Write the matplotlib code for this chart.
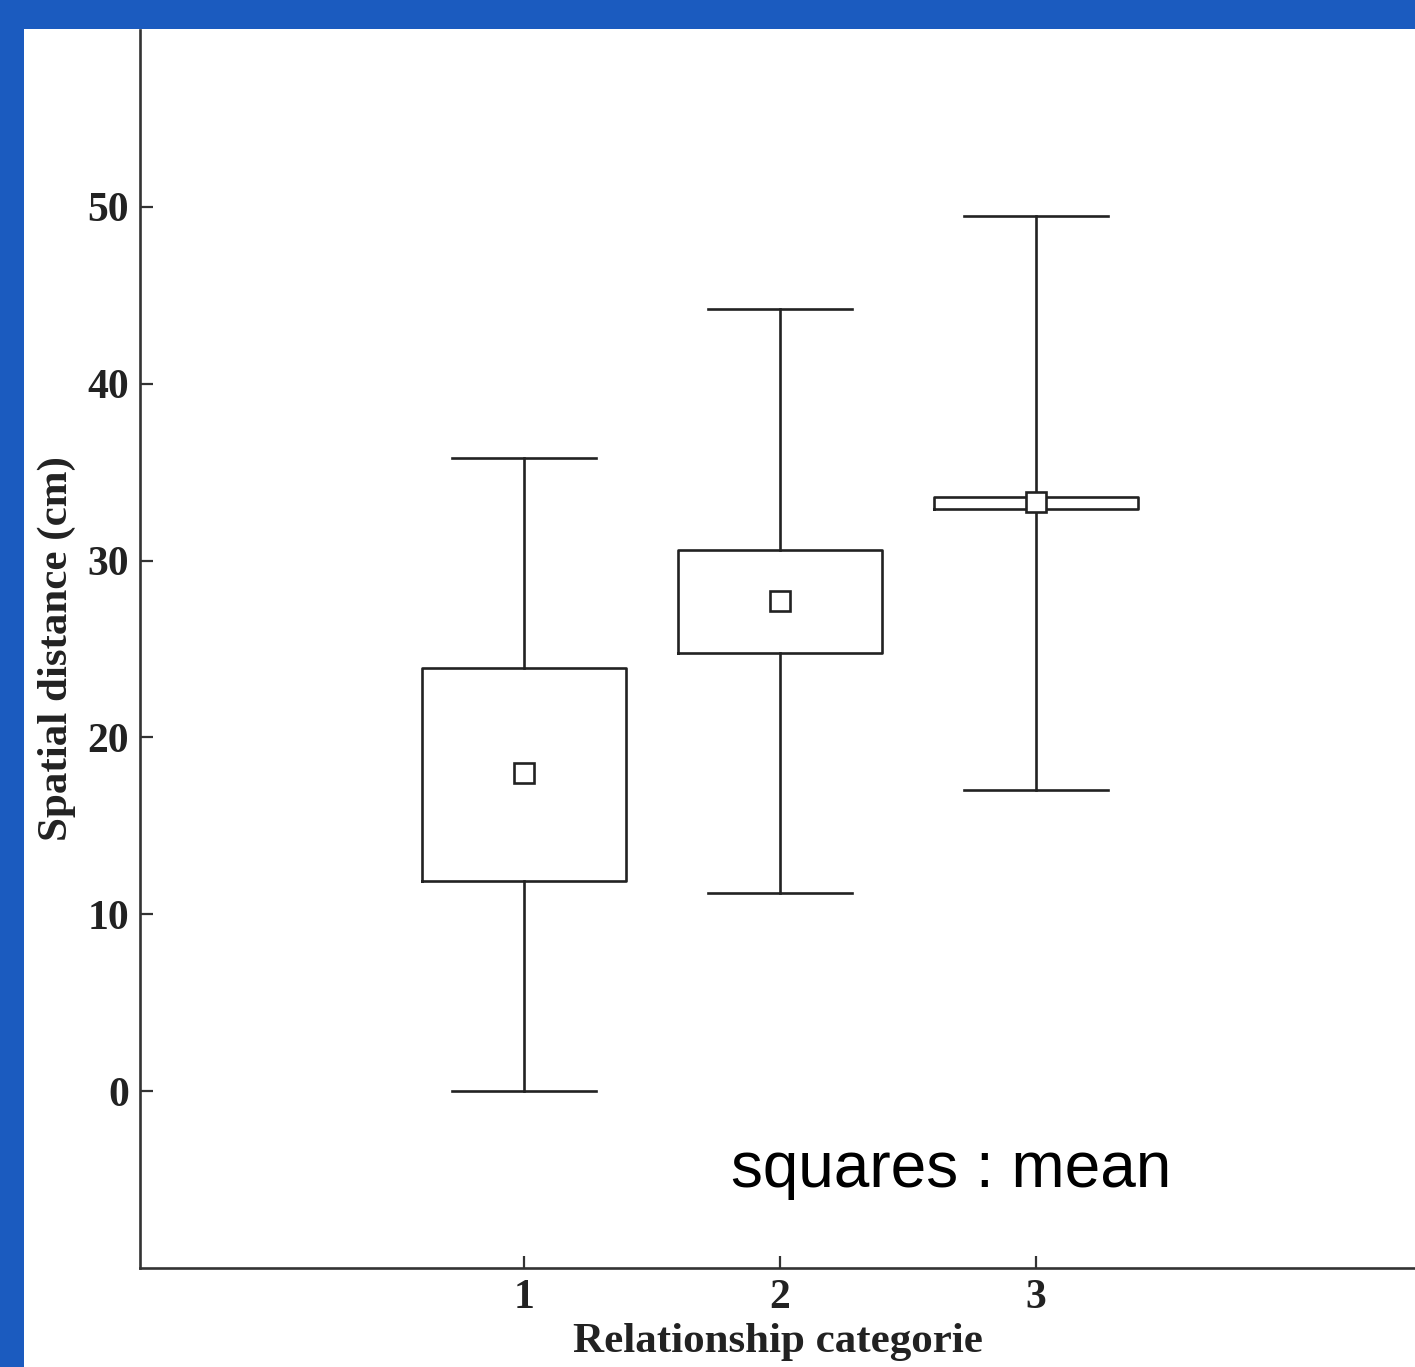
import matplotlib.pyplot as plt
from matplotlib.patches import Rectangle

# relationship categories and their distance summaries (cm)
categories = [1, 2, 3]
whisker_low = [0.0, 11.2, 17.0]
box_low = [11.9, 24.8, 32.9]
box_high = [23.9, 30.6, 33.6]
whisker_high = [35.8, 44.2, 49.5]
means = [18.0, 27.7, 33.3]

serif = ['Liberation Serif', 'DejaVu Serif']

fig = plt.figure(figsize=(14.15, 13.67), dpi=100)
fig.patch.set_facecolor('#1b5bbf')
# white sheet behind the chart
fig.patches.append(Rectangle((24 / 1415, 0), 1 - 24 / 1415, 1 - 29 / 1367,
                             transform=fig.transFigure, facecolor='white',
                             edgecolor='none', zorder=-10))

ax = fig.add_axes([140 / 1415, 99 / 1367, 1275 / 1415, 1238 / 1367])
ax.set_zorder(5)
ax.set_facecolor('none')

stats = []
for c, lo, q1, q3, hi, m in zip(categories, whisker_low, box_low, box_high, whisker_high, means):
    stats.append({'label': str(c), 'whislo': lo, 'q1': q1, 'med': m,
                  'q3': q3, 'whishi': hi, 'mean': m})

line_kw = dict(color='#222222', linewidth=1.9)
ax.bxp(stats, positions=categories, widths=0.8, capwidths=0.56,
       showmeans=True, showfliers=False,
       boxprops=line_kw, whiskerprops=line_kw, capprops=line_kw,
       medianprops=dict(linewidth=0),
       meanprops=dict(marker='s', markersize=14, markerfacecolor='white',
                      markeredgecolor='#222222', markeredgewidth=1.9))

ax.set_xlim(-0.5, 4.48)
ax.set_ylim(-10, 60)
ax.set_xticks(categories)
ax.set_xticklabels([str(c) for c in categories])
ax.set_yticks([0, 10, 20, 30, 40, 50])

for side in ['top', 'right']:
    ax.spines[side].set_visible(False)
for side in ['left', 'bottom']:
    ax.spines[side].set_linewidth(1.9)
    ax.spines[side].set_color('#333333')

ax.tick_params(direction='in', length=9, width=1.6, color='#333333', pad=8)
for lbl in ax.get_xticklabels() + ax.get_yticklabels():
    lbl.set_fontfamily(serif)
    lbl.set_fontweight('bold')
    lbl.set_fontsize(30)
    lbl.set_color('#222222')

ax.set_xlabel('Relationship categorie', fontfamily=serif, fontweight='bold',
              fontsize=31, color='#222222', labelpad=4)
ax.set_ylabel('Spatial distance (cm)', fontfamily=serif, fontweight='bold',
              fontsize=31, color='#222222', labelpad=8)

ax.text(1.81, -5.4, 'squares : mean', fontfamily=['Liberation Sans', 'DejaVu Sans'],
        fontsize=46, color='black', ha='left', va='baseline')

fig.savefig('out.png', dpi=100, facecolor=fig.get_facecolor())
